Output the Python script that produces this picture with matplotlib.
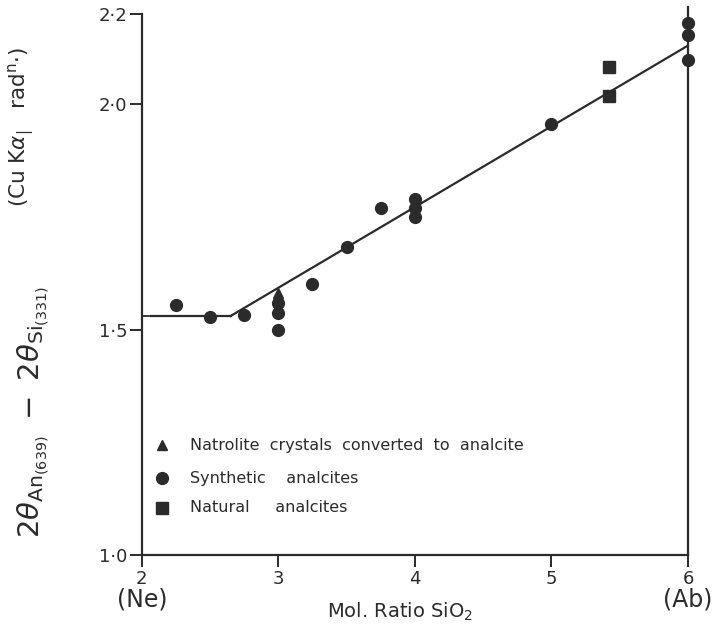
import matplotlib.pyplot as plt
import numpy as np

# values
synth_x = [2.25, 2.5, 2.75, 3.0, 3.0, 3.0, 3.25, 3.5, 3.75, 4.0, 4.0, 4.0, 5.0, 6.0, 6.0, 6.0]
synth_y = [1.555, 1.527, 1.533, 1.558, 1.536, 1.50, 1.60, 1.683, 1.77, 1.79, 1.77, 1.75, 1.955, 2.18, 2.153, 2.098]
natro_x = [3.0]
natro_y = [1.582]
natural_x = [5.42, 5.42]
natural_y = [2.082, 2.018]
flat_x = [2.07, 2.65]
flat_y = [1.53, 1.53]
fit_x = [2.65, 6.0]
fit_y = [1.53, 2.13]

x_ticks = [2, 3, 4, 5, 6]
y_ticks = [1.0, 1.5, 2.0, 2.2]
y_labels = ["1·0", "1·5", "2·0", "2·2"]

ink = '#2b2b2b'
plt.rcParams['font.family'] = ['DejaVu Sans']

fig = plt.figure(figsize=(7.16, 6.34), dpi=100)
ax = fig.add_axes([0.198, 0.1246, 0.763, 0.8534])

# fitted lines
ax.plot(flat_x, flat_y, color=ink, lw=1.6)
ax.plot([2.01, 2.05], [1.53, 1.53], color=ink, lw=1.3)
ax.plot(fit_x, fit_y, color=ink, lw=1.6)

# points
ax.plot(synth_x, synth_y, 'o', color=ink, ms=8.5, clip_on=False, zorder=5)
ax.plot(natro_x, natro_y, '^', color=ink, ms=7, clip_on=False, zorder=5)
ax.plot(natural_x, natural_y, 's', color=ink, ms=8, clip_on=False, zorder=5)

ax.set_xlim(2, 6)
ax.set_ylim(1.0, 2.2)

# right vertical line (Ab end member)
ax.plot([6, 6], [1.0, 2.215], color=ink, lw=1.6, clip_on=False)

for s in ['top', 'right']:
    ax.spines[s].set_visible(False)
for s in ['left', 'bottom']:
    ax.spines[s].set_color(ink)
    ax.spines[s].set_linewidth(1.6)

ax.set_xticks(x_ticks)
ax.set_xticklabels([str(t) for t in x_ticks])
ax.set_yticks(y_ticks)
ax.set_yticklabels(y_labels)
ax.tick_params(direction='out', length=8.5, width=1.4, color=ink,
               labelcolor=ink, labelsize=13, pad=2)

# end member labels
ax.text(2, -0.082, "(Ne)", transform=ax.get_xaxis_transform(), ha='center',
        va='center', fontsize=17, color=ink)
ax.text(6, -0.082, "(Ab)", transform=ax.get_xaxis_transform(), ha='center',
        va='center', fontsize=17, color=ink)
ax.text(3.89, -0.105, r"Mol. Ratio SiO$_2$", transform=ax.get_xaxis_transform(),
        ha='center', va='center', fontsize=14, color=ink)

# y axis labels
fig.text(0.047, 0.35, r"$2\theta_{\mathrm{An}_{(639)}}\ -\ 2\theta_{\mathrm{Si}_{(331)}}$",
         rotation=90, ha='center', va='center', fontsize=21, color=ink)
fig.text(0.03, 0.80, r"(Cu K$\alpha_{\mathrm{|}}$   rad$^{\mathrm{n}}$·)",
         rotation=90, ha='center', va='center', fontsize=15.5, color=ink)

# hand-made legend
legend_rows = [('^', "Natrolite  crystals  converted  to  analcite", 0.203, 7),
               ('o', "Synthetic    analcites", 0.142, 8.5),
               ('s', "Natural     analcites", 0.087, 8)]
for mk, label, yy, ms in legend_rows:
    ax.plot([0.037], [yy], mk, color=ink, ms=ms, transform=ax.transAxes)
    ax.text(0.088, yy, label, transform=ax.transAxes, ha='left', va='center',
            fontsize=11.5, color=ink)

fig.savefig("out.png", dpi=100)
